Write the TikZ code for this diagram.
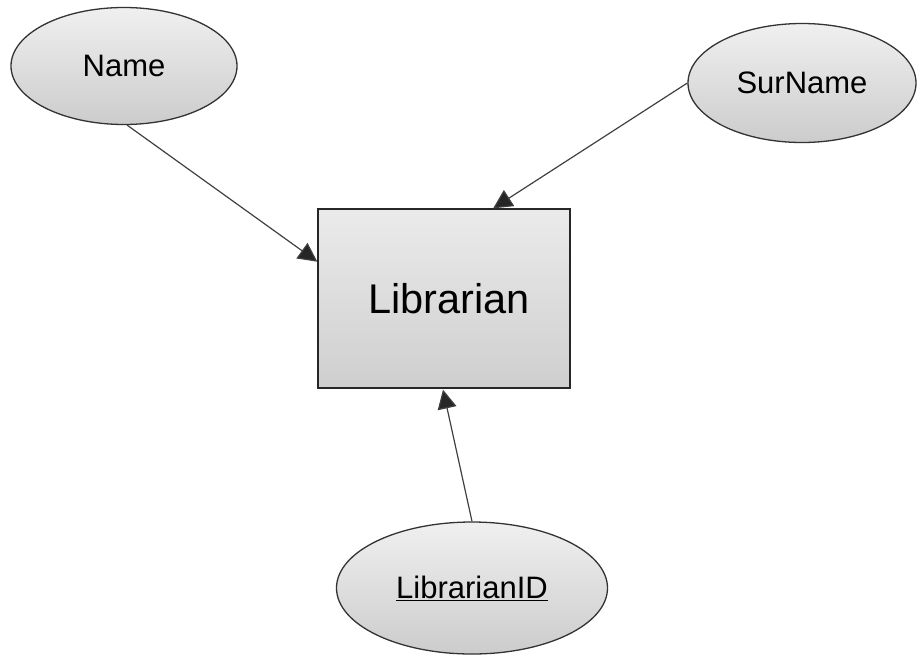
\documentclass[tikz,border=0pt]{standalone}
\usepackage{fontspec}
\setmainfont{Liberation Sans}
\usetikzlibrary{shapes.geometric,arrows.meta,calc}
\begin{document}
\begin{tikzpicture}[x=1pt,y=-1pt,
  attr/.style={ellipse,draw=black!80,line width=1.3pt,inner sep=0pt,
    top color=black!6,bottom color=black!20,font=\fontsize{31}{36}\selectfont},
  entity/.style={rectangle,draw=black!85,line width=1.3pt,inner sep=0pt,
    top color=black!8,bottom color=black!19,font=\fontsize{41.5}{48}\selectfont},
  link/.style={draw=black!75,line width=1.2pt,
    -{Triangle[length=19pt,width=19pt,fill=black!85]}}]
  \useasboundingbox (0,0) rectangle (917,656);
  % entity
  \node[entity,minimum width=252pt,minimum height=179pt] (lib) at (444,298.5) {\hspace*{10pt}Librarian};
  % attributes
  \node[attr,minimum width=226pt,minimum height=117pt] (name) at (124,66) {Name};
  \node[attr,minimum width=228pt,minimum height=119pt] (sur) at (802,83) {SurName};
  \node[attr,minimum width=271pt,minimum height=132pt] (lid) at (472,588) {\underline{LibrarianID}};
  % connectors
  \draw[link] (name.-87) -- ($(lib.north west)!0.296!(lib.south west)$);
  \draw[link] (sur.west) -- ($(lib.north west)!0.694!(lib.north east)$);
  \draw[link] (lid.north) -- ($(lib.south)+(-1,1)$);
\end{tikzpicture}
\end{document}
